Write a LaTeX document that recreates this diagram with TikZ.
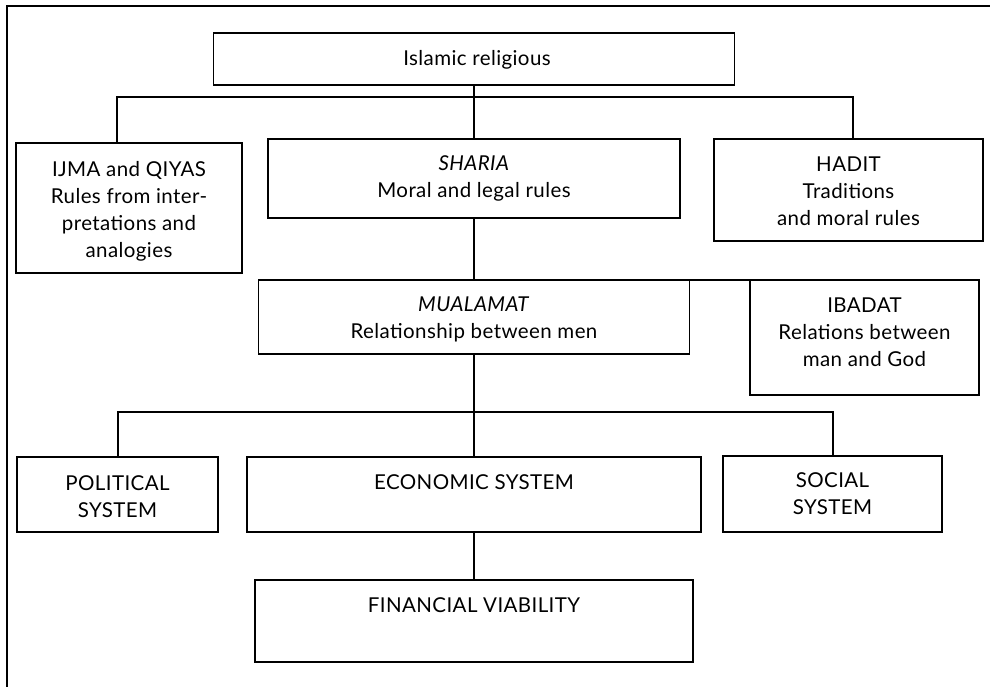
\documentclass[tikz,border=0pt]{standalone}
\usepackage{fontspec}
\setmainfont{Lato}[LetterSpace=2]
\usetikzlibrary{calc}
\tikzset{
  box/.style={draw, line width=1.6pt, inner sep=0pt, outer sep=0pt, rectangle},
  txt/.style={inner sep=0pt, outer sep=0pt, align=center, anchor=north, font=\fontsize{20.5}{27}\selectfont},
  conn/.style={draw, line width=1.6pt},
}
\begin{document}
\begin{tikzpicture}[x=1pt, y=-1pt]
\useasboundingbox (0,0) rectangle (990,687);
% frame (top and left lines only)
\draw[line width=1.8pt] (7,687) -- (7,6) -- (990,6);
% boxes
\node[box, minimum width=521pt, minimum height=52pt] (top) at (474,59) {};
\node[box, minimum width=226pt, minimum height=130pt] (ijma) at (129,208) {};
\node[box, minimum width=412pt, minimum height=79pt] (sharia) at (474,178.5) {};
\node[box, minimum width=269pt, minimum height=102pt] (hadit) at (848.5,190) {};
\node[box, minimum width=431pt, minimum height=74pt] (mual) at (474,317) {};
\node[box, minimum width=229pt, minimum height=115pt] (ibadat) at (864.5,337.5) {};
\node[box, minimum width=201pt, minimum height=75pt] (pol) at (117.5,494.5) {};
\node[box, minimum width=454pt, minimum height=75pt] (econ) at (474,494.5) {};
\node[box, minimum width=219pt, minimum height=76pt] (soc) at (832.5,494) {};
\node[box, minimum width=438pt, minimum height=82pt] (fin) at (474,621) {};
% texts
\node[txt] (top-t) at (477,47) {\strut Islamic religious};
\node[txt] (ijma-t) at (129,157.5) {\strut IJMA and QIYAS\\Rules from inter-\\pretations and\\analogies};
\node[txt] (sharia-t) at (474,151.5) {\strut\textit{SHARIA}\\Moral and legal rules};
\node[txt] (hadit-t) at (848.5,152.5) {\strut HADIT\\Traditions\\and moral rules};
\node[txt] (mual-t) at (474,292.5) {\strut\textit{MUALAMAT}\\Relationship between men};
\node[txt] (ibadat-t) at (864.5,293.5) {\strut IBADAT\\Relations between\\man and God};
\node[txt] (pol-t) at (117.5,471.5) {\strut POLITICAL\\SYSTEM};
\node[txt] (econ-t) at (474,470.5) {\strut ECONOMIC SYSTEM};
\node[txt] (soc-t) at (832.5,468.5) {\strut SOCIAL\\SYSTEM};
\node[txt] (fin-t) at (474,593.5) {\strut FINANCIAL VIABILITY};
% connectors level 1
\coordinate (j1) at (117,97);
\coordinate (h1) at (853,97);
\draw[conn] (top.south) -- (sharia.north);
\draw[conn] (ijma.north -| j1) -- (j1) -- (h1) -- (hadit.north -| h1);
% level 2
\coordinate (i2) at (850,280);
\draw[conn] (sharia.south) -- (mual.north);
\draw[conn] (mual.north) -- (i2);
% level 3
\coordinate (p3) at (118,412);
\coordinate (s3) at (833,412);
\draw[conn] (mual.south) -- (econ.north);
\draw[conn] (pol.north -| p3) -- (p3) -- (s3) -- (soc.north -| s3);
% level 4
\draw[conn] (econ.south) -- (fin.north);
\end{tikzpicture}
\end{document}
